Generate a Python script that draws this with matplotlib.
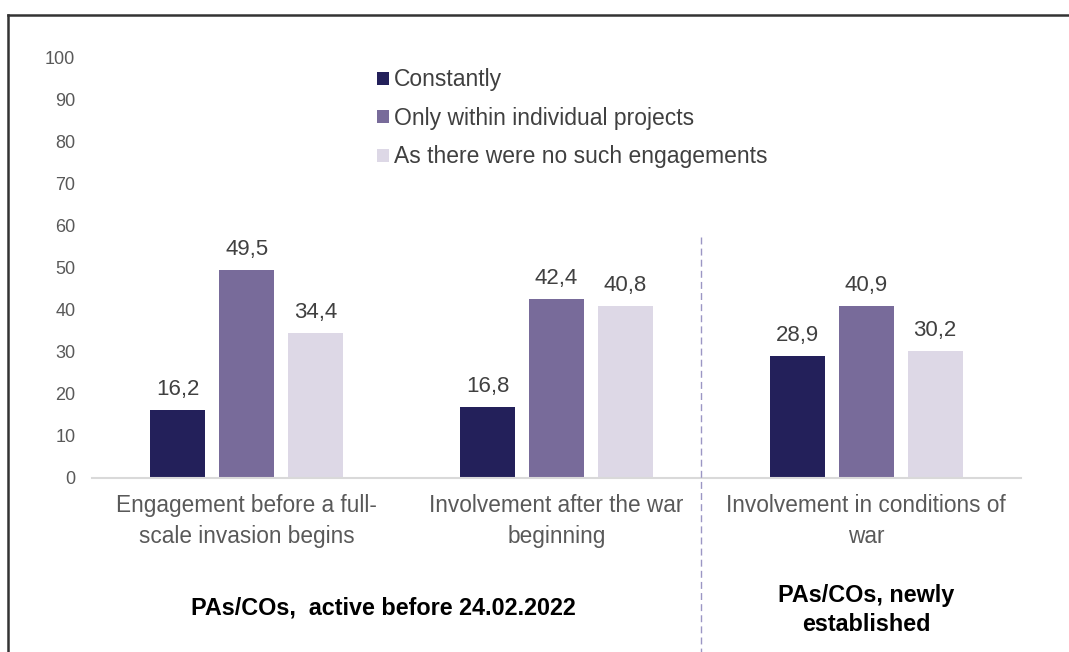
import matplotlib.pyplot as plt
import numpy as np
from matplotlib.lines import Line2D

plt.rcParams['font.family'] = ['Liberation Sans', 'DejaVu Sans']

categories = ['Engagement before a full-\nscale invasion begins',
              'Involvement after the war\nbeginning',
              'Involvement in conditions of\nwar']
series = ['Constantly', 'Only within individual projects', 'As there were no such engagements']
constantly = [16.2, 16.8, 28.9]
individual = [49.5, 42.4, 40.9]
no_such = [34.4, 40.8, 30.2]
colors = ['#23205a', '#786b9a', '#ddd8e6']
groups = ['PAs/COs,  active before 24.02.2022', 'PAs/COs, newly\nestablished']

W, H = 1069, 652
fig = plt.figure(figsize=(W / 100, H / 100), dpi=100)
ax = fig.add_axes([92 / W, 1 - 478 / H, (1021 - 92) / W, (478 - 57) / H])

x = np.arange(len(categories))
width = 0.178
step = 0.223
gray = '#595959'
for i, (vals, name) in enumerate(zip([constantly, individual, no_such], series)):
    bars = ax.bar(x + (i - 1) * step, vals, width, color=colors[i], label=name)
    for b, v in zip(bars, vals):
        ax.text(b.get_x() + b.get_width() / 2, v + 2.4, f'{v:.1f}'.replace('.', ','),
                ha='center', va='bottom', fontsize=16, color='#404040')

ax.set_xlim(-0.5, 2.5)
ax.set_ylim(0, 100)
ax.set_yticks(range(0, 101, 10))
ax.tick_params(axis='y', length=0, labelsize=13, labelcolor=gray, pad=12)
ax.set_xticks([])
for s in ['top', 'right', 'left']:
    ax.spines[s].set_visible(False)
ax.spines['bottom'].set_color('#d9d9d9')
ax.spines['bottom'].set_linewidth(1.5)

for xi, lab in zip(x, categories):
    ax.text(xi, -3.9, lab, ha='center', va='top', fontsize=16.3, color=gray,
            linespacing=1.4, transform=ax.transData, clip_on=False)

leg = ax.legend(loc='upper left', bbox_to_anchor=((368 - 92) / (1021 - 92), 0.995),
                frameon=False, fontsize=16.5, handlelength=0.5, handleheight=0.5,
                handletextpad=0.25, labelspacing=0.68, borderaxespad=0)
for t in leg.get_texts():
    t.set_color('#404040')

# group labels
fig.text(383 / W, 1 - 608 / H, groups[0], ha='center', va='center',
         fontsize=16.8, fontweight='bold', color='black')
fig.text(866 / W, 1 - 610 / H, groups[1], ha='center', va='center',
         fontsize=16.8, fontweight='bold', color='black', linespacing=1.3)

# separator and frame
fig.add_artist(Line2D([701 / W, 701 / W], [1 - 237 / H, 0], color='#9b96c4',
                      lw=1, ls=(0, (5, 3))))
fig.add_artist(Line2D([8 / W, 1], [1 - 15 / H, 1 - 15 / H], color='#333333', lw=1.8))
fig.add_artist(Line2D([8 / W, 8 / W], [1 - 15 / H, 0], color='#333333', lw=1.8))

fig.savefig('out.png', dpi=100)
